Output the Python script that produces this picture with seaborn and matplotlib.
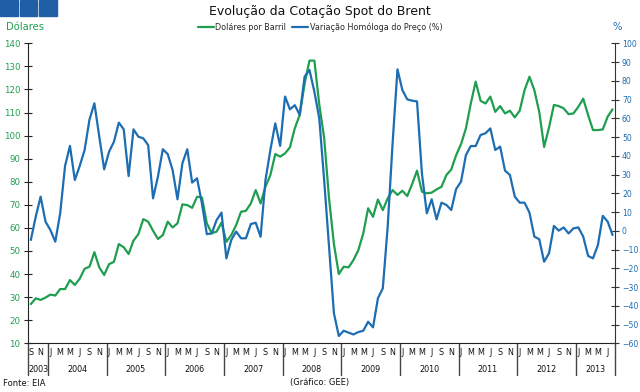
import numpy as np
import pandas as pd
import matplotlib
matplotlib.use("Agg")
import matplotlib.pyplot as plt
from matplotlib.patches import Rectangle
from matplotlib.transforms import blended_transform_factory
import seaborn as sns

# Evolucao da cotacao spot do Brent (Set 2003 - Ago 2013), valores mensais

inicio = "2003-09"
anos = [2003, 2004, 2005, 2006, 2007, 2008, 2009, 2010, 2011, 2012, 2013]
letras_mes = {1: "J", 3: "M", 5: "M", 7: "J", 9: "S", 11: "N"}

# dolares por barril
dolares = [
    27.0, 29.5, 28.8, 29.8,
    31.1, 30.7, 33.5, 33.5, 37.4, 35.3, 38.0, 42.3, 43.2, 49.5, 42.9, 39.6,
    44.3, 45.3, 53.0, 51.6, 48.7, 54.5, 57.3, 63.8, 62.7, 58.8, 55.2, 56.9,
    62.7, 60.2, 62.0, 70.2, 69.9, 68.7, 73.5, 73.2, 62.0, 57.7, 58.4, 62.3,
    54.0, 56.9, 61.2, 67.0, 67.4, 70.6, 76.4, 70.6, 77.9, 82.9, 92.0, 90.9,
    92.3, 94.9, 103.2, 108.9, 122.5, 132.5, 132.5, 113.5, 99.0, 72.8, 53.0, 40.0,
    43.2, 42.9, 46.1, 50.4, 57.6, 68.5, 64.8, 72.3, 67.7, 72.8, 76.4, 74.3,
    76.1, 73.8, 79.0, 84.8, 75.7, 75.0, 75.3, 76.7, 77.8, 82.9, 85.3, 91.5,
    96.3, 103.1, 113.9, 123.4, 115.1, 113.9, 116.9, 110.3, 112.8, 109.6, 110.8, 107.9,
    110.8, 119.7, 125.5, 119.7, 110.3, 95.1, 103.5, 113.3, 112.8, 111.8, 109.3, 109.6,
    112.5, 116.0, 108.9, 102.4, 102.4, 102.7, 108.2, 111.4,
]

# variacao homologa do preco (%)
variacao = [
    -4.9, 7.5, 18.2, 4.9,
    0.4, -5.8, 9.3, 34.6, 45.3, 27.1, 34.6, 43.1, 59.4, 68.0, 50.2, 32.8,
    42.2, 47.5, 57.7, 54.1, 29.2, 54.1, 50.2, 49.3, 45.7, 17.3, 28.9, 43.5,
    40.9, 32.4, 16.8, 36.0, 43.5, 25.7, 28.0, 14.6, -1.8, -1.4, 5.7, 9.7,
    -14.7, -4.9, -0.4, -4.0, -4.0, 3.6, 4.3, -3.2, 27.1, 43.1, 57.3, 45.3,
    71.6, 64.8, 67.0, 61.8, 82.2, 85.8, 74.2, 60.0, 27.1, -8.4, -44.0, -56.1,
    -53.3, -54.3, -55.3, -54.0, -53.3, -48.5, -51.5, -36.0, -30.7, 2.2, 46.6, 86.1,
    75.1, 70.1, 69.4, 69.0, 30.7, 9.3, 16.8, 6.1, 15.0, 13.8, 11.1, 22.3,
    26.2, 40.4, 45.2, 45.2, 51.1, 52.0, 54.6, 43.1, 44.9, 32.1, 29.8, 18.2,
    15.0, 15.0, 9.7, -3.1, -4.5, -16.5, -12.0, 2.6, 0.1, 1.8, -1.4, 1.3,
    1.8, -3.1, -13.4, -14.7, -7.6, 8.0, 4.9, -2.2,
]

verde = "#1f9e4f"
azul = "#1d6db3"

meses = pd.period_range(inicio, periods=len(dolares), freq="M")
df = pd.DataFrame({"mes": meses, "dolares": dolares, "variacao": variacao})
df["x"] = np.arange(len(df)) + 0.5

sns.set_style("white")
plt.rcParams["font.family"] = ["DejaVu Sans"]

fig = plt.figure(figsize=(6.4, 3.92), dpi=100)
ax = fig.add_axes([28.4 / 640, 1 - 343.3 / 392, (615 - 28.4) / 640, 300 / 392])
ax2 = ax.twinx()

sns.lineplot(data=df, x="x", y="dolares", ax=ax, color=verde, linewidth=1.6,
             label="Doláres por Barril", legend=False)
sns.lineplot(data=df, x="x", y="variacao", ax=ax2, color=azul, linewidth=1.6,
             label="Variação Homóloga do Preço (%)", legend=False)

ax.set_xlim(0, len(df))
ax.set_ylim(10, 140)
ax.set_yticks(range(10, 141, 10))
ax2.set_ylim(-60, 100)
ax2.set_yticks(range(-60, 101, 10))
for a in (ax, ax2):
    a.set_xlabel("")
    a.set_ylabel("")
    a.grid(False)
    for s in a.spines.values():
        s.set_visible(False)
ax.spines["left"].set_visible(True)
ax.spines["left"].set_color("#222222")
ax.spines["bottom"].set_visible(True)
ax.spines["bottom"].set_color("#222222")
ax2.spines["right"].set_visible(True)
ax2.spines["right"].set_color("#333333")

ax.tick_params(axis="y", direction="inout", length=6, width=0.8, color="#222222",
               labelsize=6.2, labelcolor=verde, pad=3)
ax2.tick_params(axis="y", direction="inout", length=6, width=0.8, color="#333333",
                labelsize=5.6, labelcolor=azul, pad=2)
ax.set_xticks(range(0, len(df) + 1))
ax.tick_params(axis="x", direction="in", length=2, width=0.6, color="#222222",
               labelbottom=False)

# eixo de meses / anos
tr = blended_transform_factory(ax.transData, ax.transAxes)
for i, p in enumerate(meses):
    if p.month in letras_mes:
        ax.text(i + 0.5, -0.032, letras_mes[p.month], transform=tr, ha="center",
                va="center", fontsize=5.8, color="#111111")
limites = [0]
for ano in anos:
    fim = min(len(df), (ano + 1 - 2003) * 12 - 8)
    ax.text((limites[-1] + fim) / 2, -0.089, str(ano), transform=tr, ha="center",
            va="center", fontsize=5.8, color="#111111")
    limites.append(fim)
for b in limites:
    ax.plot([b, b], [0, -0.107], transform=tr, color="#444444", lw=1.0,
            clip_on=False)

# cabecalho
for x0 in (0, 19.5, 39):
    fig.patches.append(Rectangle((x0 / 640, 1 - 15.5 / 392), 17.5 / 640, 15.5 / 392,
                                 transform=fig.transFigure, color="#1f5fa6"))
fig.text(0.5, 1 - 11 / 392, "Evolução da Cotação Spot do Brent", ha="center",
         va="center", fontsize=9, color="#111111")
fig.text(6 / 640, 1 - 27 / 392, "Dólares", ha="left", va="center", fontsize=7.2,
         color=verde)
fig.text(617 / 640, 1 - 27 / 392, "%", ha="center", va="center", fontsize=7.2,
         color=azul)

h1, l1 = ax.get_legend_handles_labels()
h2, l2 = ax2.get_legend_handles_labels()
fig.legend(h1 + h2, l1 + l2, loc="center", bbox_to_anchor=(0.5, 1 - 27.5 / 392),
           ncol=2, frameon=False, fontsize=5.8, handlelength=2.0,
           handletextpad=0.2, columnspacing=0.7)

fig.text(3 / 640, 1 - 383 / 392, "Fonte: EIA", ha="left", va="center",
         fontsize=6, color="#111111")
fig.text(320 / 640, 1 - 383 / 392, "(Gráfico: GEE)", ha="center", va="center",
         fontsize=6, color="#111111")

fig.savefig("out.png", dpi=100, facecolor="white")
